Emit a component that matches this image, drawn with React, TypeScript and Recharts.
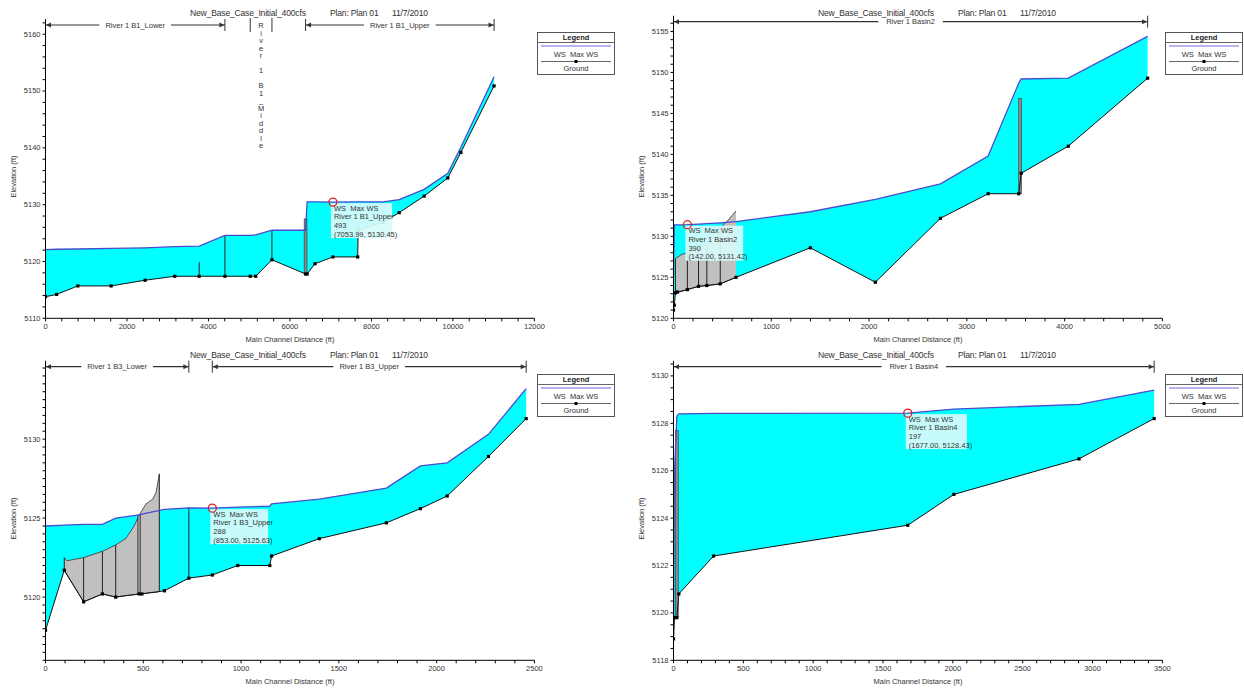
import React from 'react';
import {
  ComposedChart,
  Area,
  Line,
  XAxis,
  YAxis,
  ReferenceLine,
  ReferenceDot,
  Legend,
} from 'recharts';

const FONT = '"Liberation Sans", Arial, sans-serif';

const planTitle = 'New_Base_Case_Initial_400cfs';
const planName = 'Plan: Plan 01';
const planDate = '11/7/2010';
const xTitle = 'Main Channel Distance (ft)';
const yTitle = 'Elevation (ft)';
const legendTitle = 'Legend';
const legendItems = ['WS  Max WS', 'Ground'];

// River 1 B1 (top left)
const b1Station = [0, 272, 795, 1610, 2444, 3172, 3773, 4404, 5025, 5160, 5558, 6383, 6421, 6615, 7053.99, 7663, 7675, 8290, 8682, 9293, 9875, 10195, 11010];
const b1Ground = [5113.8, 5114.2, 5115.7, 5115.7, 5116.7, 5117.4, 5117.4, 5117.4, 5117.4, 5117.4, 5120.3, 5117.8, 5117.8, 5119.6, 5120.8, 5120.8, 5125.5, 5126.9, 5128.6, 5131.5, 5134.7, 5139.2, 5150.9];
const b1Ws = [5122.1, 5122.15, 5122.2, 5122.3, 5122.4, 5122.6, 5122.7, 5124.6, 5124.6, 5124.7, 5125.5, 5125.5, 5130.5, 5130.5, 5130.45, 5130.5, 5130.5, 5130.5, 5130.9, 5132.7, 5135.5, 5140.1, 5152.5];
const b1Reaches = ['River 1 B1_Lower', 'River 1 B1_Middle', 'River 1 B1_Upper'];
const b1ReachFrom = [0, 5025, 6383];
const b1ReachTo = [4404, 5558, 11010];
const b1SecX = [3773, 4404, 5558];
const b1SecLow = [5117.4, 5117.4, 5120.3];
const b1SecHigh = [5119.9, 5124.6, 5125.5];
const b1StructX = [6383];
const b1StructLow = [5117.8];
const b1StructHigh = [5127.5];
const b1Note = ['WS  Max WS', 'River 1 B1_Upper', '493', '(7053.99, 5130.45)'];
const b1NoteAt = [7053.99, 5130.45];
const b1XTicks = [0, 2000, 4000, 6000, 8000, 10000, 12000];
const b1YTicks = [5110, 5120, 5130, 5140, 5150, 5160];

// River 1 Basin2 (top right)
const b2Station = [0, 8, 20, 41, 142, 256, 341, 478, 639, 1399, 2064, 2730, 3218, 3531, 3556, 4037, 4849];
const b2Ground = [5121.0, 5121.6, 5123.1, 5123.2, 5123.5, 5123.9, 5124.0, 5124.2, 5125.0, 5128.6, 5124.4, 5132.2, 5135.2, 5135.2, 5137.7, 5141.0, 5149.3];
const b2Ws = [5125.0, 5131.4, 5131.4, 5131.4, 5131.42, 5131.5, 5131.55, 5131.65, 5131.8, 5133.0, 5134.5, 5136.4, 5139.8, 5148.7, 5149.2, 5149.3, 5154.4];
const b2GrayX = [20, 86, 142, 256, 341, 478, 560, 639];
const b2GrayLow = [5123.1, 5123.3, 5123.5, 5123.9, 5124.0, 5124.2, 5124.6, 5125.0];
const b2GrayHigh = [5127.3, 5127.8, 5128.0, 5128.5, 5129.2, 5131.0, 5132.0, 5133.1];
const b2Reaches = ['River 1 Basin2'];
const b2ReachFrom = [0];
const b2ReachTo = [4849];
const b2SecX = [20, 142, 256, 341, 478];
const b2SecLow = [5123.1, 5123.5, 5123.9, 5124.0, 5124.2];
const b2SecHigh = [5127.3, 5128.0, 5128.5, 5129.2, 5131.0];
const b2StructX = [3545];
const b2StructLow = [5135.2];
const b2StructHigh = [5146.8];
const b2Note = ['WS  Max WS', 'River 1 Basin2', '390', '(142.00, 5131.42)'];
const b2NoteAt = [142, 5131.42];
const b2XTicks = [0, 1000, 2000, 3000, 4000, 5000];
const b2YTicks = [5120, 5125, 5130, 5135, 5140, 5145, 5150, 5155];

// River 1 B3 (bottom left)
const b3Station = [0, 96, 195, 291, 359, 479, 493, 608, 733, 853, 983, 1147, 1156, 1400, 1743, 1917, 2054, 2265, 2458];
const b3Ground = [5117.9, 5121.7, 5119.7, 5120.2, 5120.0, 5120.2, 5120.2, 5120.4, 5121.2, 5121.4, 5122.0, 5122.0, 5122.6, 5123.7, 5124.7, 5125.6, 5126.4, 5128.9, 5131.3];
const b3Ws = [5124.5, 5124.55, 5124.6, 5124.6, 5125.0, 5125.2, 5125.25, 5125.55, 5125.65, 5125.63, 5125.7, 5125.75, 5125.9, 5126.2, 5126.9, 5128.3, 5128.5, 5130.3, 5133.2];
const b3GrayX = [96, 110, 195, 291, 359, 410, 453, 479, 514, 548, 565, 582];
const b3GrayLow = [5121.7, 5121.4, 5119.7, 5120.2, 5120.0, 5120.1, 5120.15, 5120.2, 5120.25, 5120.3, 5120.3, 5120.35];
const b3GrayHigh = [5122.5, 5122.3, 5122.5, 5122.9, 5123.3, 5123.7, 5124.5, 5125.2, 5125.9, 5126.2, 5126.6, 5127.8];
const b3Reaches = ['River 1 B3_Lower', 'River 1 B3_Upper'];
const b3ReachFrom = [0, 853];
const b3ReachTo = [733, 2458];
const b3SecX = [96, 195, 291, 359, 582, 733];
const b3SecLow = [5121.7, 5119.7, 5120.2, 5120.0, 5120.35, 5121.2];
const b3SecHigh = [5122.5, 5122.5, 5122.9, 5123.3, 5127.8, 5125.65];
const b3StructX = [479];
const b3StructLow = [5120.2];
const b3StructHigh = [5125.2];
const b3Note = ['WS  Max WS', 'River 1 B3_Upper', '288', '(853.00, 5125.63)'];
const b3NoteAt = [853, 5125.63];
const b3XTicks = [0, 500, 1000, 1500, 2000, 2500];
const b3YTicks = [5120, 5125, 5130];

// River 1 Basin4 (bottom right)
const b4Station = [0, 7, 24, 38, 287, 1677, 2007, 2903, 3441];
const b4Ground = [5118.9, 5119.8, 5119.8, 5120.8, 5122.4, 5123.7, 5125.0, 5126.5, 5128.2];
const b4Ws = [5119.0, 5126.0, 5128.3, 5128.4, 5128.42, 5128.43, 5128.6, 5128.8, 5129.4];
const b4Reaches = ['River 1 Basin4'];
const b4ReachFrom = [0];
const b4ReachTo = [3441];
const b4StructX = [24];
const b4StructLow = [5119.8];
const b4StructHigh = [5127.7];
const b4Note = ['WS  Max WS', 'River 1 Basin4', '197', '(1677.00, 5128.43)'];
const b4NoteAt = [1677, 5128.43];
const b4XTicks = [0, 500, 1000, 1500, 2000, 2500, 3000, 3500];
const b4YTicks = [5118, 5120, 5122, 5124, 5126, 5128, 5130];

const band = (x: number[], lo: number[], hi: number[]) =>
  x.map((v, i) => ({ x: v, lo: lo[i], hi: hi[i], band: [lo[i], hi[i]] }));

const minorTicks = (lo: number, hi: number, step: number) => {
  const out: number[] = [];
  const start = Math.ceil(lo / step - 1e-9) * step;
  for (let v = start; v <= hi + 1e-9; v += step) out.push(+v.toFixed(3));
  return out;
};

const makeTick = (majors: number[], side: 'x' | 'y') => (p: any) => {
  const v = p.payload.value;
  if (!majors.some((m) => Math.abs(m - v) < 1e-6)) return <g />;
  return (
    <text
      x={p.x}
      y={p.y}
      dy={side === 'x' ? '0.71em' : '0.32em'}
      textAnchor={side === 'x' ? 'middle' : 'end'}
      fontSize={7.5}
      fontFamily={FONT}
      fill="#333"
    >
      {v}
    </text>
  );
};

const nbsp = (t: string) => t.replace(/ /g, '\u00a0');

const reachShape = (name: string) => (p: any) => {
  const { x1, x2, y1 } = p;
  const y = y1 + 5;
  const tw = name.length * 3.6;
  const mid = (x1 + x2) / 2;
  if (x2 - x1 < tw + 20) {
    return (
      <g>
        <line x1={x1} y1={y - 7} x2={x1} y2={y + 7} stroke="#333" strokeWidth={1} />
        <line x1={x2} y1={y - 7} x2={x2} y2={y + 7} stroke="#333" strokeWidth={1} />
        <text x={mid} y={y + 3} textAnchor="middle" fontSize={7.5} fontFamily={FONT} fill="#333">
          {name.split('').map((c, i) => (
            <tspan key={i} x={mid} dy={i === 0 ? 0 : 7.5}>
              {c === ' ' ? '\u00a0' : c}
            </tspan>
          ))}
        </text>
      </g>
    );
  }
  return (
    <g>
      <line x1={x1} y1={y} x2={x2} y2={y} stroke="#333" strokeWidth={1.2} />
      <line x1={x1} y1={y - 6} x2={x1} y2={y + 6} stroke="#333" strokeWidth={1} />
      <line x1={x2} y1={y - 6} x2={x2} y2={y + 6} stroke="#333" strokeWidth={1} />
      <path d={`M${x1 + 0.5},${y} l5,-2.5 l0,5 z`} fill="#333" />
      <path d={`M${x2 - 0.5},${y} l-5,-2.5 l0,5 z`} fill="#333" />
      <rect x={mid - tw / 2 - 7} y={y - 5} width={tw + 14} height={10} fill="#fff" />
      <text x={mid} y={y + 2.7} textAnchor="middle" fontSize={7.5} fontFamily={FONT} fill="#333">
        {name}
      </text>
    </g>
  );
};

const structShape = (p: any) => {
  const top = Math.min(p.y1, p.y2);
  return (
    <rect x={p.x1 - 1.4} y={top} width={2.8} height={Math.abs(p.y2 - p.y1)} fill="#8c8c8c" stroke="#333" strokeWidth={0.6} />
  );
};

const noteShape = (lines: string[]) => (p: any) => {
  const { cx, cy } = p;
  const w = Math.max(...lines.map((l) => l.length)) * 3.4;
  return (
    <g>
      <rect x={cx - 2} y={cy + 1} width={w} height={35} fill="#d8fbfb" fillOpacity={0.92} />
      {lines.map((t, i) => (
        <text key={i} x={cx + 1} y={cy + 8.5 + i * 8.7} fontSize={7.5} fontFamily={FONT} fill="#333">
          {nbsp(t)}
        </text>
      ))}
      <circle cx={cx} cy={cy} r={4} fill="none" stroke="#e02020" strokeWidth={1.3} />
    </g>
  );
};

const LegendBox = () => (
  <svg width={78} height={43} style={{ display: 'block' }}>
    <rect x={0.5} y={0.5} width={77} height={42} fill="#fff" stroke="#555" />
    <text x={39} y={8} textAnchor="middle" fontSize={7.5} fontWeight="bold" fontFamily={FONT} fill="#222">
      {legendTitle}
    </text>
    <line x1={0.5} y1={10.5} x2={77.5} y2={10.5} stroke="#666" />
    <line x1={4} y1={14} x2={74} y2={14} stroke="#9c9ce4" strokeWidth={1.6} />
    <text x={39} y={24.5} textAnchor="middle" fontSize={7.5} fontFamily={FONT} fill="#333">
      {nbsp(legendItems[0])}
    </text>
    <line x1={4} y1={29.5} x2={74} y2={29.5} stroke="#666" strokeWidth={1} />
    <rect x={37.5} y={28} width={3} height={3} fill="#000" />
    <text x={39} y={38.5} textAnchor="middle" fontSize={7.5} fontFamily={FONT} fill="#333">
      {legendItems[1]}
    </text>
  </svg>
);

type PanelCfg = {
  left: number;
  top: number;
  width: number;
  marginTop: number;
  xMax: number;
  xMinor: number;
  yMin: number;
  yMax: number;
  yMinor: number;
  xTicks: number[];
  yTicks: number[];
  station: number[];
  ground: number[];
  ws: number[];
  grayX?: number[];
  grayLow?: number[];
  grayHigh?: number[];
  reaches: string[];
  reachFrom: number[];
  reachTo: number[];
  secX: number[];
  secLow: number[];
  secHigh: number[];
  structX: number[];
  structLow: number[];
  structHigh: number[];
  note: string[];
  noteAt: number[];
};

const PLOT_RIGHT = 534.4;
const CHART_H = 344;
const PLOT_BOTTOM = 318.3;

const Panel = ({ c }: { c: PanelCfg }) => {
  const rows = band(c.station, c.ground, c.ws);
  const gray = c.grayX ? band(c.grayX, c.grayLow!, c.grayHigh!) : null;
  const xAll = minorTicks(0, c.xMax, c.xMinor);
  const yAll = minorTicks(c.yMin, c.yMax, c.yMinor);
  const margin = { top: c.marginTop, right: c.width - PLOT_RIGHT, bottom: 0, left: 0 };
  return (
    <div style={{ position: 'absolute', left: c.left, top: c.top, width: c.width, height: CHART_H }}>
      <ComposedChart width={c.width} height={CHART_H} margin={margin}>
        <XAxis
          type="number"
          dataKey="x"
          domain={[0, c.xMax]}
          ticks={xAll}
          interval={0}
          allowDataOverflow
          height={CHART_H - PLOT_BOTTOM}
          tickSize={3}
          axisLine={{ stroke: '#000' }}
          tickLine={{ stroke: '#000' }}
          tick={makeTick(c.xTicks, 'x')}
        />
        <YAxis
          type="number"
          domain={[c.yMin, c.yMax]}
          ticks={yAll}
          interval={0}
          allowDataOverflow
          width={45.5}
          tickSize={3}
          axisLine={{ stroke: '#000' }}
          tickLine={{ stroke: '#000' }}
          tick={makeTick(c.yTicks, 'y')}
        />
        <Legend
          layout="vertical"
          align="center"
          verticalAlign="middle"
          wrapperStyle={{ left: 537, top: 32, width: 78, height: 43 }}
          content={() => <LegendBox />}
        />
        <Area
          data={rows}
          dataKey="band"
          type="linear"
          fill="#00ffff"
          fillOpacity={1}
          stroke="none"
          isAnimationActive={false}
        />
        {gray && (
          <Area
            data={gray}
            dataKey="band"
            type="linear"
            fill="#c0c0c0"
            fillOpacity={1}
            stroke="#333"
            strokeWidth={0.8}
            isAnimationActive={false}
          />
        )}
        {c.secX.map((x, i) => (
          <ReferenceLine
            key={`s${i}`}
            segment={[{ x, y: c.secLow[i] }, { x, y: c.secHigh[i] }]}
            stroke="#222"
            strokeWidth={1}
            ifOverflow="visible"
          />
        ))}
        {c.structX.map((x, i) => (
          <ReferenceLine
            key={`t${i}`}
            segment={[{ x, y: c.structLow[i] }, { x, y: c.structHigh[i] }]}
            shape={structShape}
            ifOverflow="visible"
          />
        ))}
        <Line
          data={rows}
          dataKey="hi"
          type="linear"
          stroke="#4b4bd0"
          strokeWidth={1.3}
          dot={false}
          isAnimationActive={false}
        />
        <Line
          data={rows}
          dataKey="lo"
          type="linear"
          stroke="#111"
          strokeWidth={1}
          dot={(p: any) => (
            <rect key={`d${p.index}`} x={p.cx - 1.6} y={p.cy - 1.6} width={3.2} height={3.2} fill="#000" />
          )}
          isAnimationActive={false}
        />
        {c.reaches.map((name, i) => (
          <ReferenceLine
            key={`r${i}`}
            segment={[{ x: c.reachFrom[i], y: c.yMax }, { x: c.reachTo[i], y: c.yMax }]}
            shape={reachShape(name)}
            ifOverflow="visible"
          />
        ))}
      </ComposedChart>
      {/* second layer with the same scales so the note box sits above the series */}
      <div style={{ position: 'absolute', left: 0, top: 0 }}>
        <ComposedChart width={c.width} height={CHART_H} margin={margin}>
          <XAxis
            type="number"
            dataKey="x"
            domain={[0, c.xMax]}
            allowDataOverflow
            height={CHART_H - PLOT_BOTTOM}
            axisLine={false}
            tickLine={false}
            tick={false}
          />
          <YAxis
            type="number"
            domain={[c.yMin, c.yMax]}
            allowDataOverflow
            width={45.5}
            axisLine={false}
            tickLine={false}
            tick={false}
          />
          <Line
            data={rows}
            dataKey="hi"
            type="linear"
            stroke="none"
            dot={false}
            activeDot={false}
            isAnimationActive={false}
          />
          <ReferenceDot
            x={c.noteAt[0]}
            y={c.noteAt[1]}
            r={4}
            shape={noteShape(c.note)}
            ifOverflow="visible"
          />
        </ComposedChart>
      </div>
      <div style={{ position: 'absolute', top: 8, left: 0, height: 10, fontSize: 8.6, lineHeight: '10px', color: '#333', whiteSpace: 'pre', letterSpacing: -0.2 }}>
        <span style={{ position: 'absolute', left: 190 }}>{planTitle}</span>
        <span style={{ position: 'absolute', left: 330 }}>{planName}</span>
        <span style={{ position: 'absolute', left: 392 }}>{planDate}</span>
      </div>
      <div style={{ position: 'absolute', left: 190, width: 200, top: 335, textAlign: 'center', fontSize: 7.5, lineHeight: '9px', color: '#333' }}>
        {xTitle}
      </div>
      <div style={{ position: 'absolute', left: -37, width: 100, top: 172, textAlign: 'center', fontSize: 7.5, lineHeight: '9px', color: '#333', transform: 'rotate(-90deg)' }}>
        {yTitle}
      </div>
    </div>
  );
};

const panels: PanelCfg[] = [
  {
    left: 0, top: 0, width: 620, marginTop: 20,
    xMax: 12000, xMinor: 400, yMin: 5110, yMax: 5162.5, yMinor: 2,
    xTicks: b1XTicks, yTicks: b1YTicks,
    station: b1Station, ground: b1Ground, ws: b1Ws,
    reaches: b1Reaches, reachFrom: b1ReachFrom, reachTo: b1ReachTo,
    secX: b1SecX, secLow: b1SecLow, secHigh: b1SecHigh,
    structX: b1StructX, structLow: b1StructLow, structHigh: b1StructHigh,
    note: b1Note, noteAt: b1NoteAt,
  },
  {
    left: 628, top: 0, width: 616, marginTop: 16.7,
    xMax: 5000, xMinor: 200, yMin: 5120, yMax: 5156.8, yMinor: 1,
    xTicks: b2XTicks, yTicks: b2YTicks,
    station: b2Station, ground: b2Ground, ws: b2Ws,
    grayX: b2GrayX, grayLow: b2GrayLow, grayHigh: b2GrayHigh,
    reaches: b2Reaches, reachFrom: b2ReachFrom, reachTo: b2ReachTo,
    secX: b2SecX, secLow: b2SecLow, secHigh: b2SecHigh,
    structX: b2StructX, structLow: b2StructLow, structHigh: b2StructHigh,
    note: b2Note, noteAt: b2NoteAt,
  },
  {
    left: 0, top: 342, width: 620, marginTop: 19.7,
    xMax: 2500, xMinor: 100, yMin: 5116, yMax: 5134.9, yMinor: 0.5,
    xTicks: b3XTicks, yTicks: b3YTicks,
    station: b3Station, ground: b3Ground, ws: b3Ws,
    grayX: b3GrayX, grayLow: b3GrayLow, grayHigh: b3GrayHigh,
    reaches: b3Reaches, reachFrom: b3ReachFrom, reachTo: b3ReachTo,
    secX: b3SecX, secLow: b3SecLow, secHigh: b3SecHigh,
    structX: b3StructX, structLow: b3StructLow, structHigh: b3StructHigh,
    note: b3Note, noteAt: b3NoteAt,
  },
  {
    left: 628, top: 342, width: 616, marginTop: 19.7,
    xMax: 3500, xMinor: 100, yMin: 5118, yMax: 5130.6, yMinor: 0.5,
    xTicks: b4XTicks, yTicks: b4YTicks,
    station: b4Station, ground: b4Ground, ws: b4Ws,
    reaches: b4Reaches, reachFrom: b4ReachFrom, reachTo: b4ReachTo,
    secX: [], secLow: [], secHigh: [],
    structX: b4StructX, structLow: b4StructLow, structHigh: b4StructHigh,
    note: b4Note, noteAt: b4NoteAt,
  },
];

export default function App() {
  return (
    <div
      style={{
        position: 'absolute',
        left: 0,
        top: 0,
        width: 1244,
        height: 689,
        overflow: 'hidden',
        background: '#fff',
        fontFamily: FONT,
      }}
    >
      {panels.map((c, i) => (
        <Panel key={i} c={c} />
      ))}
    </div>
  );
}
